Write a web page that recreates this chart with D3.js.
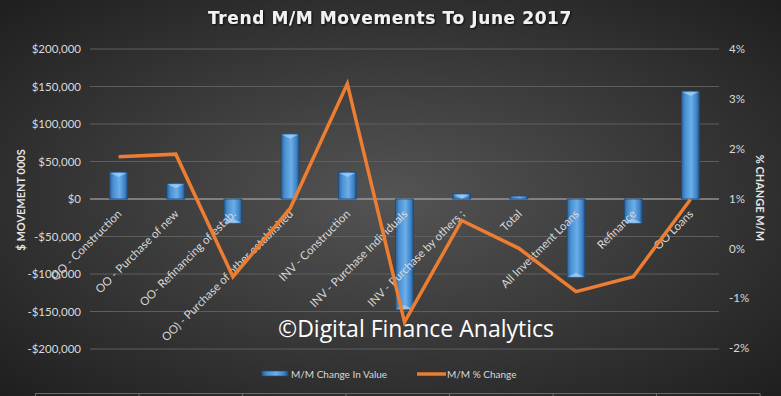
<!DOCTYPE html>
<html><head><meta charset="utf-8">
<script src="https://cdn.jsdelivr.net/npm/d3@7"></script>
<style>html,body{margin:0;padding:0;background:#2a2a2a;}svg{display:block;}</style>
</head><body>
<script>
const categories = ["OO - Construction","OO - Purchase of new","OO- Refinancing of estab.","OO) - Purchase of other established","INV - Construction","INV - Purchase Individuals","INV - Purchase by others ;","Total","All Investment Loans","Refinance","OO Loans"];
const valueChange = [36000, 21000, -33000, 87000, 36000, -148000, 7000, 4000, -105000, -33000, 144000];
const pctChange = [1.84, 1.89, -0.57, 0.8, 3.3, -1.48, 0.56, 0.0, -0.87, -0.57, 0.98];
const leftTicks = [-200000,-150000,-100000,-50000,0,50000,100000,150000,200000];
const rightTicks = [-2,-1,0,1,2,3,4];
const seriesNames = ["M/M Change In Value","M/M % Change"];
const title = "Trend M/M Movements To June 2017";

const W=781,H=396;
const svg=d3.select("body").append("svg").attr("width",W).attr("height",H);
const defs=svg.append("defs");
const bg=defs.append("radialGradient").attr("id","bg").attr("cx","50%").attr("cy","50%").attr("r","70%");
bg.append("stop").attr("offset","0%").attr("stop-color","#545454");
bg.append("stop").attr("offset","100%").attr("stop-color","#1f1f1f");
const bar=defs.append("linearGradient").attr("id","bar").attr("x1","0").attr("x2","1").attr("y1","0").attr("y2","0");
bar.append("stop").attr("offset","0%").attr("stop-color","#2a5f98");
bar.append("stop").attr("offset","20%").attr("stop-color","#4a8fd0");
bar.append("stop").attr("offset","55%").attr("stop-color","#6aaeea");
bar.append("stop").attr("offset","85%").attr("stop-color","#3f82c4");
bar.append("stop").attr("offset","100%").attr("stop-color","#1f4f82");
const sh=defs.append("filter").attr("id","sh");
sh.append("feDropShadow").attr("dx",1).attr("dy",1).attr("stdDeviation",1).attr("flood-color","#000").attr("flood-opacity",0.8);

svg.append("rect").attr("width",W).attr("height",H).attr("fill","url(#bg)");

const m={l:90,r:62,t:49,b:47};
const x=d3.scaleBand().domain(categories).range([m.l,W-m.r]).paddingInner(0).paddingOuter(0);
const yL=d3.scaleLinear().domain([-200000,200000]).range([349,49]);
const yR=d3.scaleLinear().domain([-2,4]).range([348,49]);

// gridlines
svg.append("g").selectAll("line").data(leftTicks).join("line")
 .attr("x1",m.l).attr("x2",W-m.r).attr("y1",d=>yL(d)).attr("y2",d=>yL(d))
 .attr("stroke",d=>d===0?"#bdbdbd":"#5e5e5e").attr("stroke-width",1);

const font="Lato, 'Open Sans', sans-serif";
// left axis
const gL=svg.append("g").attr("transform",`translate(${m.l},0)`)
 .call(d3.axisLeft(yL).tickValues(leftTicks).tickSize(0).tickPadding(9)
 .tickFormat(d=>(d<0?"-$":"$")+d3.format(",")(Math.abs(d))));
gL.select(".domain").remove();
gL.selectAll("text").attr("fill","#d9d9d9").style("font-family",font).style("font-size","11.5px");
// right axis
const gR=svg.append("g").attr("transform",`translate(${W-m.r},0)`)
 .call(d3.axisRight(yR).tickValues(rightTicks).tickSize(0).tickPadding(10).tickFormat(d=>d+"%"));
gR.select(".domain").remove();
gR.selectAll("text").attr("fill","#d9d9d9").style("font-family",font).style("font-size","11.5px");

// axis titles
svg.append("text").attr("transform","translate(25,200) rotate(-90)").attr("text-anchor","middle")
 .attr("fill","#e6e6e6").style("font-family",font).style("font-weight","bold").style("font-size","11px").text("$ MOVEMENT 000S");
svg.append("text").attr("transform","translate(756,198) rotate(90)").attr("text-anchor","middle")
 .attr("fill","#e6e6e6").style("font-family",font).style("font-weight","bold").style("font-size","11px").text("% CHANGE M/M");

// bars
const bw=18;
const bars=svg.append("g");
bars.selectAll("rect").data(categories).join("rect")
 .attr("x",(d)=>x(d)+x.bandwidth()/2-bw/2).attr("width",bw)
 .attr("y",(d,i)=>Math.min(yL(valueChange[i]),yL(0)))
 .attr("height",(d,i)=>Math.abs(yL(valueChange[i])-yL(0)))
 .attr("fill","url(#bar)").attr("stroke","#1e4a78").attr("stroke-width",0.8);
// bevel highlight at the outer end
bars.selectAll("path").data(categories).join("path")
 .attr("d",(d,i)=>{const cx=x(d)+x.bandwidth()/2, ye=yL(valueChange[i]), s=valueChange[i]>=0?1:-1;
   if(Math.abs(ye-yL(0))<5) return "";
   return `M${cx-bw/2+1},${ye+s*1}L${cx+bw/2-1},${ye+s*1}L${cx},${ye+s*5}Z`;})
 .attr("fill","#a9d3f5").attr("opacity",0.7);

// category labels
svg.append("g").selectAll("text").data(categories).join("text")
 .attr("transform",d=>`translate(${x(d)+x.bandwidth()/2-2},${yL(0)+10}) rotate(-45)`)
 .attr("text-anchor","end").attr("dy","0.7em")
 .attr("fill","#d9d9d9").style("font-family",font).style("font-size","11.5px").text(d=>d);

// line
const line=d3.line().x((d,i)=>x(categories[i])+x.bandwidth()/2).y(d=>yR(d));
svg.append("path").datum(pctChange).attr("d",line).attr("fill","none")
 .attr("stroke","#ed7d31").attr("stroke-width",3.5).attr("stroke-linejoin","miter");

// watermark
svg.append("text").attr("x",416).attr("y",337).attr("text-anchor","middle").attr("fill","#ffffff")
 .style("font-family","'Open Sans', sans-serif").style("font-size","23px").text("\u00A9Digital Finance Analytics");

// title
svg.append("text").attr("x",390).attr("y",24).attr("text-anchor","middle").attr("fill","#f2f2f2")
 .attr("filter","url(#sh)").style("font-family","'DejaVu Sans', sans-serif").style("font-weight","bold")
 .style("font-size","17px").style("letter-spacing","0.6px").text(title);

// legend
const lg=svg.append("g");
lg.append("rect").attr("x",262).attr("y",371).attr("width",26).attr("height",5).attr("fill","url(#bar)").attr("stroke","#1e4a78").attr("stroke-width",0.6);
lg.append("text").attr("x",291).attr("y",378).attr("fill","#d9d9d9").style("font-family",font).style("font-size","10px").text(seriesNames[0]);
lg.append("line").attr("x1",417).attr("x2",446).attr("y1",374).attr("y2",374).attr("stroke","#ed7d31").attr("stroke-width",3.5);
lg.append("text").attr("x",447).attr("y",378).attr("fill","#d9d9d9").style("font-family",font).style("font-size","10px").text(seriesNames[1]);

// faint outer frame edge at bottom
const edge=svg.append("g").attr("stroke","#6a6a6a").attr("stroke-width",1);
edge.append("line").attr("x1",35).attr("x2",760).attr("y1",393.5).attr("y2",393.5);
edge.selectAll(".tk").data(d3.range(8)).join("line").attr("class","tk")
 .attr("x1",d=>35.5+d*103.5).attr("x2",d=>35.5+d*103.5).attr("y1",393).attr("y2",396);
</script>
</body></html>
